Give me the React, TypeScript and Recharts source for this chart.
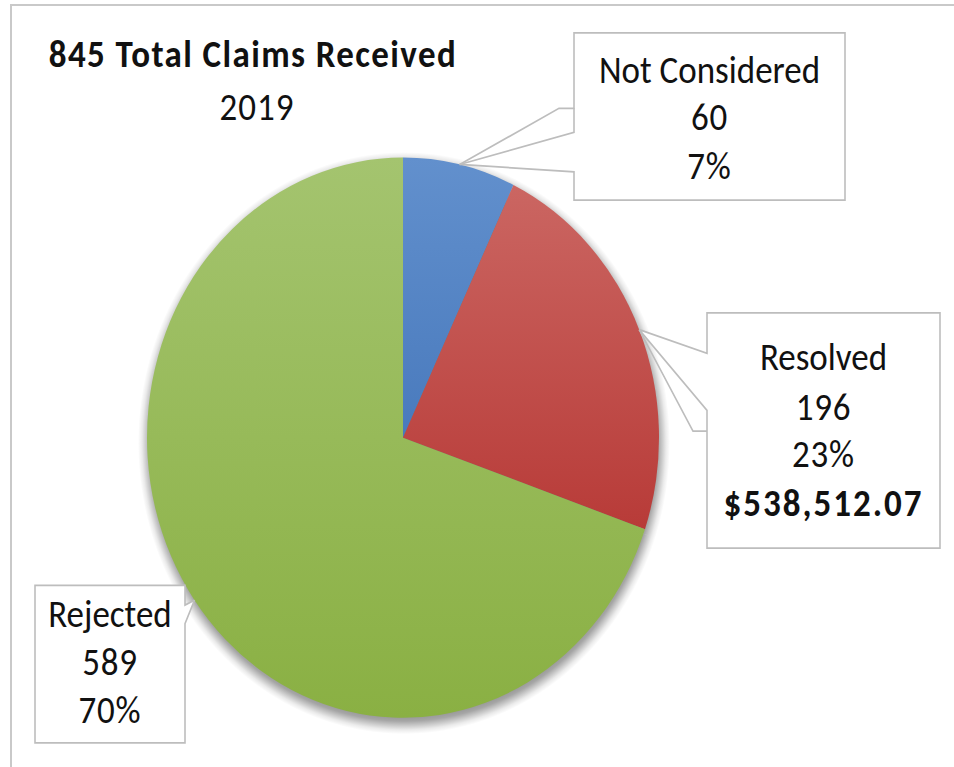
import React from 'react';
import { PieChart, Pie, Cell } from 'recharts';

// chart data
const categories = ['Not Considered', 'Resolved', 'Rejected'];
const claimCounts = [60, 196, 589];
const extraLines = ['', '$538,512.07', ''];
const titleText = '845 Total Claims Received';
const yearText = '2019';

const sliceFills = ['url(#gBlue)', 'url(#gRed)', 'url(#gGreen)'];

// the source picture is stretched vertically, so everything is drawn
// in a 954x701 box and scaled back up
const W = 954;
const H = 701;
const STRETCH = 767 / H;
const FONT = 'Carlito, Calibri, Lato, "Noto Sans", sans-serif';
const CX = 403;
const CY = 400;
const R = 256;

const data = categories.map((name, i) => ({ name, value: claimCounts[i], extra: extraLines[i] }));

type Pt = [number, number] | null; // null = pointer tip on the pie edge

// callout boxes (layout only)
const callouts: { x0: number; y0: number; x1: number; y1: number; lines: number[]; outline: Pt[]; extra: Pt[] }[] = [
  {
    x0: 574, y0: 30, x1: 845, y1: 183,
    lines: [76, 119, 164],
    outline: [null, [559, 99], [574, 99], [574, 30], [845, 30], [845, 183], [574, 183], [574, 157], null],
    extra: [[574, 99], [574, 121], null],
  },
  {
    x0: 707, y0: 286, x1: 940, y1: 501,
    lines: [338, 384, 427, 472],
    outline: [null, [707, 323], [707, 286], [940, 286], [940, 501], [707, 501], [707, 375], null],
    extra: [null, [693, 394], [707, 394]],
  },
  {
    x0: 35, y0: 535, x1: 185, y1: 679,
    lines: [573, 617, 661],
    outline: [null, [185, 570], [185, 679], [35, 679], [35, 535], [185, 535], [185, 553], null],
    extra: [],
  },
];

const toPath = (pts: Pt[], tip: [number, number]) =>
  pts.map((p, i) => `${i === 0 ? 'M' : 'L'}${(p || tip)[0]},${(p || tip)[1]}`).join(' ');

const renderCallout = (props: any) => {
  const { cx, cy, midAngle, outerRadius, index, percent, value, payload } = props;
  const RAD = Math.PI / 180;
  const tip: [number, number] = [
    cx + outerRadius * Math.cos(-midAngle * RAD),
    cy + outerRadius * Math.sin(-midAngle * RAD),
  ];
  const box = callouts[index];
  const mid = (box.x0 + box.x1) / 2;
  const extra = payload?.extra ?? extraLines[index];
  const texts = [categories[index], String(value), `${Math.round(percent * 100)}%`];
  if (extra) texts.push(extra);
  return (
    <g key={`callout-${index}`}>
      <path d={toPath(box.outline, tip)} fill="#fff" stroke="#bdbdbd" strokeWidth={1.6} />
      {box.extra.length > 0 && (
        <path d={toPath(box.extra, tip)} fill="none" stroke="#bdbdbd" strokeWidth={1.6} />
      )}
      {texts.map((t, i) => (
        <text
          key={i}
          x={mid}
          y={box.lines[i]}
          textAnchor="middle"
          fontFamily={FONT}
          fontSize={35}
          fontWeight={i === 3 ? 700 : 400}
          letterSpacing={i === 3 ? 2 : i > 0 ? 0.8 : 0}
          fill="#111"
        >
          {t}
        </text>
      ))}
    </g>
  );
};

export default function App() {
  return (
    <div style={{ position: 'absolute', left: 0, top: 0, width: 954, height: 767, background: '#fff', overflow: 'hidden' }}>
      <div
        style={{
          position: 'absolute', left: 10, top: 4, width: 960, height: 800,
          borderTop: '2px solid #c9c9c9', borderLeft: '2px solid #c9c9c9',
        }}
      />
      <div style={{ position: 'absolute', left: 0, top: 0, width: W, height: H, transform: `scaleY(${STRETCH})`, transformOrigin: '0 0' }}>
        <svg width={W} height={H} style={{ position: 'absolute', left: 0, top: 0 }}>
          <defs>
            <linearGradient id="gBlue" x1="0" y1="0" x2="0" y2="1">
              <stop offset="0%" stopColor="#6290cd" />
              <stop offset="100%" stopColor="#497abd" />
            </linearGradient>
            <linearGradient id="gRed" x1="0" y1="0" x2="0" y2="1">
              <stop offset="0%" stopColor="#cb6662" />
              <stop offset="100%" stopColor="#b83b38" />
            </linearGradient>
            <linearGradient id="gGreen" x1="0" y1="0" x2="0" y2="1">
              <stop offset="0%" stopColor="#a4c46f" />
              <stop offset="100%" stopColor="#8ab043" />
            </linearGradient>
            <radialGradient id="gShadow" gradientUnits="userSpaceOnUse" cx={CX + 1} cy={CY + 5} r={R + 10}>
              <stop offset="0.9" stopColor="#000" stopOpacity={0.55} />
              <stop offset="0.955" stopColor="#000" stopOpacity={0.35} />
              <stop offset="0.985" stopColor="#000" stopOpacity={0.08} />
              <stop offset="1" stopColor="#000" stopOpacity={0} />
            </radialGradient>
          </defs>
          <text x={253} y={61} textAnchor="middle" fontFamily={FONT} fontSize={35} fontWeight={700} letterSpacing={1.4} fill="#111">
            {titleText}
          </text>
          <text x={257} y={110} textAnchor="middle" fontFamily={FONT} fontSize={35} letterSpacing={1} fill="#111">
            {yearText}
          </text>
        </svg>
        <PieChart width={W} height={H} margin={{ top: 0, right: 0, bottom: 0, left: 0 }} style={{ position: 'absolute', left: 0, top: 0 }}>
          {/* soft shadow under the pie */}
          <Pie
            data={data}
            dataKey="value"
            cx={CX + 1}
            cy={CY + 5}
            outerRadius={R + 10}
            startAngle={90}
            endAngle={-270}
            stroke="none"
            label={false}
            labelLine={false}
            isAnimationActive={false}
          >
            {data.map((d) => (
              <Cell key={`s-${d.name}`} fill="url(#gShadow)" />
            ))}
          </Pie>
          <Pie
            data={data}
            dataKey="value"
            cx={CX}
            cy={CY}
            outerRadius={R}
            startAngle={90}
            endAngle={-270}
            stroke="none"
            label={renderCallout}
            labelLine={false}
            isAnimationActive={false}
          >
            {data.map((d, i) => (
              <Cell key={d.name} fill={sliceFills[i]} />
            ))}
          </Pie>
        </PieChart>
      </div>
    </div>
  );
}
